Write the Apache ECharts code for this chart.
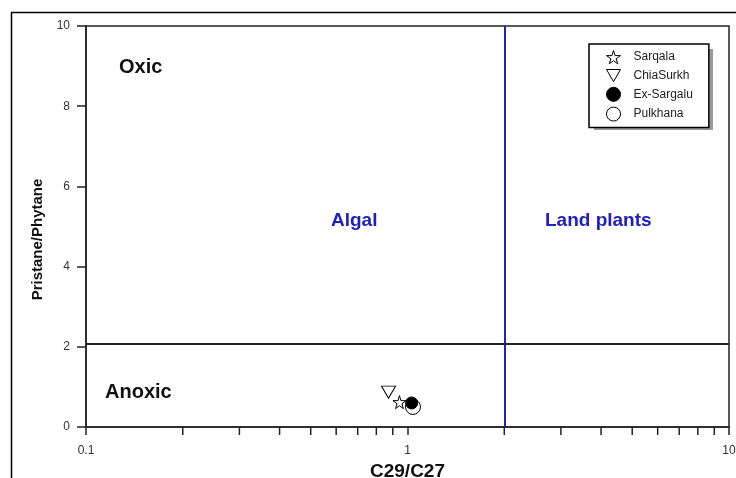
<!DOCTYPE html>
<html>
<head>
<meta charset="utf-8">
<script src="https://cdn.jsdelivr.net/npm/echarts@6/dist/echarts.min.js"></script>
<style>
  html, body { margin: 0; padding: 0; background: #fff; }
  #chart { width: 736px; height: 478px; }
</style>
</head>
<body>
<div id="chart"></div>
<script>
// Sample groups and their C29/C27 vs Pristane/Phytane values
const groupNames = ['Sarqala', 'ChiaSurkh', 'Ex-Sargalu', 'Pulkhana'];
const sarqala = [[0.944, 0.62]];
const chiaSurkh = [[0.873, 0.87]];
const exSargalu = [[1.03, 0.60]];
const pulkhana = [[1.04, 0.50]];

// Source boundary (algal / land plants) and redox boundary (oxic / anoxic)
const sourceBoundary = 2;
const redoxBoundary = 2.08;

// Axis ranges and tick values
const xMin = 0.1, xMax = 10;
const yMin = 0, yMax = 10, yStep = 2;
const minorXTicks = [0.2, 0.3, 0.4, 0.5, 0.6, 0.7, 0.8, 0.9, 2, 3, 4, 5, 6, 7, 8, 9];

const FONT = 'Arial, "Liberation Sans", sans-serif';
const STAR = 'path://M50,0 L61,35 L98,35 L68,57 L79,91 L50,70 L21,91 L32,57 L2,35 L39,35 Z';
const TRI_DOWN = 'path://M0,0 L100,0 L50,87 Z';

const chart = echarts.init(document.getElementById('chart'), null, { renderer: 'canvas' });

const axisColor = '#222';

chart.setOption({
  animation: false,
  backgroundColor: '#fff',
  textStyle: { fontFamily: FONT },
  grid: {
    left: 86, right: 7, top: 26, bottom: 51,
    containLabel: false, outerBoundsMode: 'none',
    show: true, borderColor: axisColor, borderWidth: 1.5, backgroundColor: 'transparent'
  },
  xAxis: {
    type: 'log', logBase: 10, min: xMin, max: xMax,
    name: 'C29/C27', nameLocation: 'middle', nameGap: 35,
    nameTextStyle: { fontSize: 19, fontWeight: 'bold', color: '#111', fontFamily: FONT },
    axisLine: { show: true, lineStyle: { color: axisColor, width: 1.5 } },
    axisTick: { show: true, inside: false, length: 8, lineStyle: { color: axisColor, width: 1.5 } },
    axisLabel: { fontSize: 12, color: '#333', margin: 18, fontFamily: FONT,
      formatter: v => String(v) },
    splitLine: { show: false },
    minorTick: { show: false }
  },
  yAxis: {
    type: 'value', min: yMin, max: yMax, interval: yStep,
    name: 'Pristane/Phytane', nameLocation: 'middle', nameGap: 38,
    nameTextStyle: { fontSize: 15, fontWeight: 'bold', color: '#111', fontFamily: FONT, padding: [0, 26, 0, 0] },
    axisLine: { show: true, lineStyle: { color: axisColor, width: 1.5 } },
    axisTick: { show: true, inside: false, length: 9, lineStyle: { color: axisColor, width: 1.5 } },
    axisLabel: { fontSize: 12, color: '#333', margin: 16, fontFamily: FONT },
    splitLine: { show: false }
  },
  legend: {
    data: groupNames,
    orient: 'vertical',
    left: 589, top: 44,
    padding: [6, 16, 6, 17],
    itemWidth: 14, itemHeight: 14, itemGap: 4.7,
    itemStyle: { borderWidth: 1 },
    textStyle: { fontSize: 12, color: '#222', fontFamily: FONT, padding: [0, 0, 0, 8] },
    backgroundColor: '#fff',
    borderColor: '#000', borderWidth: 1.5, borderRadius: 0,
    z: 10
  },
  graphic: [
    // outer frame around the figure
    { type: 'rect', silent: true, z: 100,
      shape: { x: 11.5, y: 12.5, width: 800, height: 600 },
      style: { fill: 'none', stroke: '#000', lineWidth: 1.5 } },
    // drop shadow behind the legend box
    { type: 'rect', silent: true, z: 1,
      shape: { x: 594, y: 49, width: 119, height: 81 },
      style: { fill: '#9a9a9a' } },
    { type: 'text', silent: true, left: 119, top: 57,
      style: { text: 'Oxic', font: 'bold 20px ' + FONT, fill: '#111' } },
    { type: 'text', silent: true, left: 105, top: 382,
      style: { text: 'Anoxic', font: 'bold 20px ' + FONT, fill: '#111' } },
    { type: 'text', silent: true, left: 331, top: 211,
      style: { text: 'Algal', font: 'bold 19px ' + FONT, fill: '#2020c0' } },
    { type: 'text', silent: true, left: 545, top: 211,
      style: { text: 'Land plants', font: 'bold 19px ' + FONT, fill: '#2020c0' } }
  ],
  series: [
    {
      name: 'Sarqala', type: 'scatter', data: sarqala, z: 4,
      symbol: STAR, symbolSize: 13,
      itemStyle: { color: '#fff', borderColor: '#000', borderWidth: 1, opacity: 1 },
      markLine: {
        silent: true, symbol: 'none', label: { show: false },
        data: [
          { xAxis: sourceBoundary, lineStyle: { color: '#2020c8', width: 2, type: 'solid' } },
          { yAxis: redoxBoundary, lineStyle: { color: '#222', width: 2, type: 'solid' } }
        ]
      }
    },
    {
      name: 'ChiaSurkh', type: 'scatter', data: chiaSurkh, z: 4,
      symbol: TRI_DOWN, symbolSize: [14, 12],
      itemStyle: { color: '#fff', borderColor: '#000', borderWidth: 1, opacity: 1 }
    },
    {
      name: 'Ex-Sargalu', type: 'scatter', data: exSargalu, z: 5,
      symbol: 'circle', symbolSize: 12,
      itemStyle: { color: '#000', borderColor: '#000', borderWidth: 1, opacity: 1 }
    },
    {
      name: 'Pulkhana', type: 'scatter', data: pulkhana, z: 3,
      symbol: 'circle', symbolSize: 15,
      itemStyle: { color: '#fff', borderColor: '#000', borderWidth: 1, opacity: 1 }
    },
    {
      // minor ticks for the log x axis (2..9 in each decade)
      name: 'minorTicks', type: 'custom', silent: true, clip: false,
      data: minorXTicks.map(v => [v, yMin]),
      encode: { x: 0, y: 1 },
      renderItem: function (params, api) {
        const p = api.coord([api.value(0), api.value(1)]);
        return {
          type: 'line',
          shape: { x1: p[0], y1: p[1], x2: p[0], y2: p[1] + 8 },
          style: { stroke: axisColor, lineWidth: 1.5 }
        };
      }
    }
  ]
});
</script>
</body>
</html>
